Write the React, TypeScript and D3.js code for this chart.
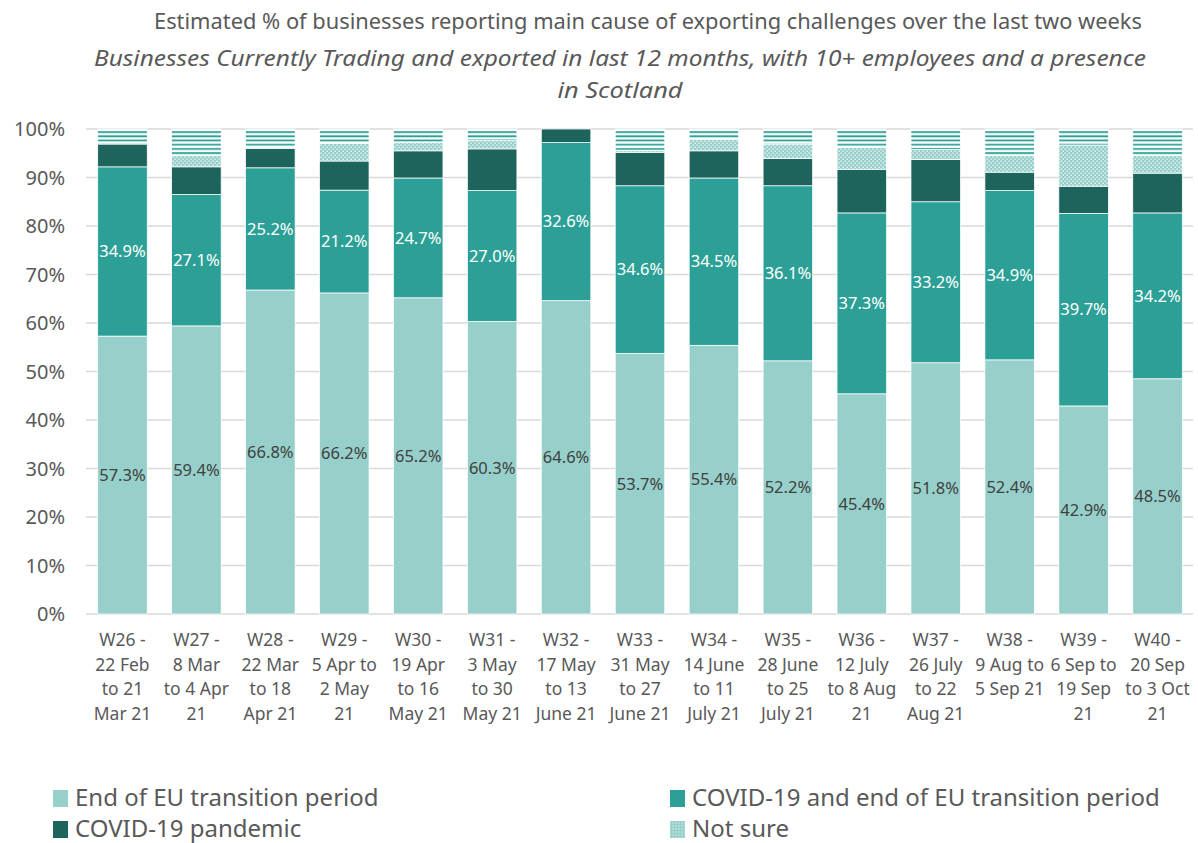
import React from "react";
import * as d3 from "d3";

const categories: string[][] = [
  ["W26 -", "22 Feb", "to 21", "Mar 21"],
  ["W27  -", "8 Mar", "to 4 Apr", "21"],
  ["W28 -", "22 Mar", "to 18", "Apr 21"],
  ["W29 -", "5 Apr to", "2 May", "21"],
  ["W30 -", "19 Apr", "to 16", "May 21"],
  ["W31 -", "3 May", "to 30", "May 21"],
  ["W32 -", "17 May", "to 13", "June 21"],
  ["W33 -", "31 May", "to 27", "June 21"],
  ["W34 -", "14 June", "to 11", "July 21"],
  ["W35 -", "28 June", "to 25", "July 21"],
  ["W36 -", "12 July", "to 8 Aug", "21"],
  ["W37 -", "26 July", "to 22", "Aug 21"],
  ["W38 -", "9 Aug to", "5 Sep 21"],
  ["W39 -", "6 Sep to", "19 Sep", "21"],
  ["W40 -", "20 Sep", "to 3 Oct", "21"],
];

const endOfEU = [57.3, 59.4, 66.8, 66.2, 65.2, 60.3, 64.6, 53.7, 55.4, 52.2, 45.4, 51.8, 52.4, 42.9, 48.5];
const covidAndEU = [34.9, 27.1, 25.2, 21.2, 24.7, 27.0, 32.6, 34.6, 34.5, 36.1, 37.3, 33.2, 34.9, 39.7, 34.2];
const covidPandemic = [4.7, 5.7, 4.0, 6.0, 5.6, 8.6, 2.8, 6.9, 5.6, 5.6, 9.0, 8.7, 3.8, 5.6, 8.2];
const notSure = [0, 2.3, 0, 3.6, 1.7, 1.7, 0, 0.4, 2.3, 3.0, 4.5, 2.1, 3.4, 8.5, 3.6];
const other = [3.1, 5.5, 4.0, 3.0, 2.8, 2.4, 0, 4.4, 2.2, 3.1, 3.8, 4.2, 5.5, 3.3, 5.5];

const yTicks = [0, 10, 20, 30, 40, 50, 60, 70, 80, 90, 100];

const seriesNames = ["End of EU transition period", "COVID-19 and end of EU transition period", "COVID-19 pandemic", "Not sure", "Other"];

const LIGHT = "#97d0ca";
const MID = "#2ca096";
const DARK = "#1d645d";
const TEXT = "#595959";
const FONT = "'Noto Sans', 'Open Sans', sans-serif";

export default function App() {
  const W = 1198, H = 843;
  const ids = categories.map((c) => c[0]);
  const x = d3.scaleBand<string>().domain(ids).range([85.5, 1194.5]).paddingInner(0.33).paddingOuter(0.165);
  const y = d3.scaleLinear().domain([0, 100]).range([614, 129]);

  const rows = ids.map((id, i) => ({
    id,
    s0: endOfEU[i],
    s1: covidAndEU[i],
    s2: covidPandemic[i],
    s3: notSure[i],
    s4: other[i],
  }));
  const stack = d3.stack<any>().keys(["s0", "s1", "s2", "s3", "s4"]);
  const stacked = stack(rows);
  const fills = [LIGHT, MID, DARK, "url(#dots)", "url(#stripes)"];

  return (
    <svg width={W} height={H} style={{ position: "absolute", left: 0, top: 0, background: "#fff" }} fontFamily={FONT}>
      <defs>
        <pattern id="dots" width={4} height={4} patternUnits="userSpaceOnUse">
          <rect width={4} height={4} fill={LIGHT} />
          <rect x={0.5} y={0.5} width={1.3} height={1.3} fill="#fff" />
          <rect x={2.5} y={2.5} width={1.3} height={1.3} fill="#fff" />
        </pattern>
        <pattern id="stripes" width={4} height={4.2} patternUnits="userSpaceOnUse">
          <rect width={4} height={4.2} fill="#fff" />
          <rect y={1} width={4} height={1.8} fill={MID} />
        </pattern>
        <pattern id="legdots" width={3} height={3} patternUnits="userSpaceOnUse">
          <rect width={3} height={3} fill={LIGHT} />
          <rect x={0.5} y={0.5} width={1} height={1} fill="#fff" />
        </pattern>
      </defs>

      {/* Title */}
      <text x={648} y={29} textAnchor="middle" fontSize={22} fill={TEXT} textLength={988} lengthAdjust="spacingAndGlyphs">
        Estimated % of businesses reporting main cause of exporting challenges over the last two weeks
      </text>
      <text x={620} y={66} textAnchor="middle" fontSize={22} fontStyle="italic" fill={TEXT} textLength={1052} lengthAdjust="spacingAndGlyphs">
        Businesses Currently Trading and exported in last 12 months, with 10+ employees and a presence
      </text>
      <text x={620} y={98} textAnchor="middle" fontSize={22} fontStyle="italic" fill={TEXT} textLength={125} lengthAdjust="spacingAndGlyphs">
        in Scotland
      </text>

      {/* gridlines */}
      {yTicks.map((t) => (
        <g key={t}>
          <line x1={86} x2={1193} y1={y(t)} y2={y(t)} stroke="#d9d9d9" strokeWidth={1.3} />
          <text x={65} y={y(t)} dy="0.35em" textAnchor="end" fontSize={20} fill={TEXT}>
            {t}%
          </text>
        </g>
      ))}

      {/* bars */}
      {stacked.map((layer, li) => (
        <g key={layer.key} fill={fills[li]}>
          {layer.map((d, i) => {
            const top = Math.min(d[1], 100);
            const h = y(d[0]) - y(top);
            if (h <= 0) return null;
            return (
              <rect
                key={i}
                x={x(ids[i])}
                y={y(top)}
                width={x.bandwidth()}
                height={h}
                stroke="#fff"
                strokeWidth={0.75}
              />
            );
          })}
        </g>
      ))}

      {/* data labels */}
      {rows.map((r, i) => {
        const cx = (x(r.id) as number) + x.bandwidth() / 2;
        return (
          <g key={r.id} fontSize={16.5} textAnchor="middle">
            <text x={cx} y={y(r.s0 / 2)} dy="0.35em" fill="#404040">
              {r.s0.toFixed(1)}%
            </text>
            <text x={cx} y={y(r.s0 + r.s1 / 2)} dy="0.35em" fill="#fff">
              {r.s1.toFixed(1)}%
            </text>
          </g>
        );
      })}

      {/* x labels */}
      {categories.map((lines, i) => {
        const cx = (x(ids[i]) as number) + x.bandwidth() / 2;
        return (
          <text key={i} x={cx} y={646} textAnchor="middle" fontSize={17.5} fill={TEXT}>
            {lines.map((l, j) => (
              <tspan key={j} x={cx} y={646 + j * 24.5}>
                {l}
              </tspan>
            ))}
          </text>
        );
      })}

      {/* legend */}
      {[
        { name: seriesNames[0], fill: LIGHT, lx: 53, ly: 798 },
        { name: seriesNames[1], fill: MID, lx: 670, ly: 798 },
        { name: seriesNames[2], fill: DARK, lx: 53, ly: 829 },
        { name: seriesNames[3], fill: "url(#legdots)", lx: 670, ly: 829 },
      ].map((e) => (
        <g key={e.name}>
          <rect x={e.lx} y={e.ly - 8} width={15} height={17} fill={e.fill} />
          <text x={e.lx + 22} y={e.ly} dy="0.35em" fontSize={24} fill={TEXT}>
            {e.name}
          </text>
        </g>
      ))}
    </svg>
  );
}
